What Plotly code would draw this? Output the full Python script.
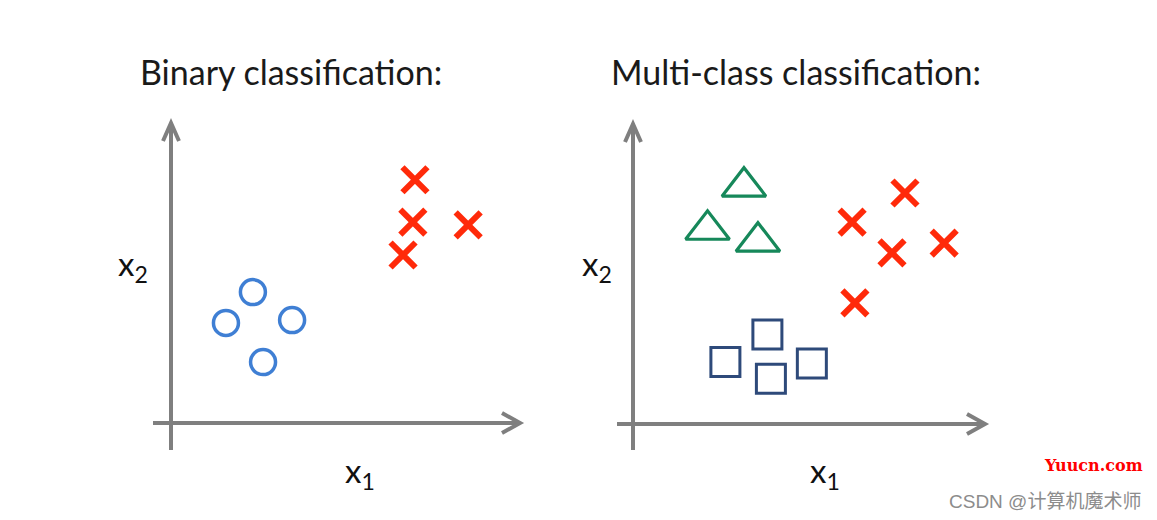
import plotly.graph_objects as go

# ---------------- data (arbitrary feature units) ----------------
# Binary classification panel
bin_circle_x1 = [2.34, 1.57, 3.46, 2.63]
bin_circle_x2 = [3.74, 2.86, 2.94, 1.74]
bin_cross_x1 = [6.97, 6.91, 8.49, 6.63]
bin_cross_x2 = [6.95, 5.74, 5.66, 4.80]

# Multi-class classification panel
mc_tri_x1 = [3.17, 2.13, 3.57]
mc_tri_x2 = [6.78, 5.55, 5.21]
mc_cross_x1 = [7.77, 6.26, 7.40, 8.89, 6.34]
mc_cross_x2 = [6.60, 5.77, 4.89, 5.17, 3.46]
mc_sq_x1 = [3.84, 2.64, 5.11, 3.94]
mc_sq_x2 = [2.56, 1.77, 1.73, 1.29]

titles = ["Binary classification:", "Multi-class classification:"]

# ---------------- layout helpers ----------------
PAGE_W, PAGE_H = 1157, 520
OFF = 8  # default body margin of the html page
W, H = PAGE_W - 2 * OFF, PAGE_H - 2 * OFF
U = 35.0  # pixels per unit


def paper_x(px):
    return (px - OFF) / W


def paper_y(py):
    return 1 - (py - OFF) / H


def panel(origin, xpx, ypx):
    ox, oy = origin
    xdom = [paper_x(xpx[0]), paper_x(xpx[1])]
    ydom = [paper_y(ypx[1]), paper_y(ypx[0])]
    xr = [(xpx[0] - ox) / U, (xpx[1] - ox) / U]
    yr = [(oy - ypx[1]) / U, (oy - ypx[0]) / U]
    return xdom, xr, ydom, yr


L = panel((171, 423), (140, 540), (110, 460))
R = panel((633, 424), (600, 1000), (110, 460))

RED = "#ff2a0a"
BLUE = "#3f7fd4"
GREEN = "#16885a"
NAVY = "#2e4a7a"
GRAY = "#7f7f7f"

fig = go.Figure()

fig.add_trace(go.Scatter(x=bin_circle_x1, y=bin_circle_x2, mode="markers", xaxis="x", yaxis="y",
                         marker=dict(symbol="circle-open", size=25, color=BLUE, line=dict(width=3.5, color=BLUE))))
fig.add_trace(go.Scatter(x=bin_cross_x1, y=bin_cross_x2, mode="markers", xaxis="x", yaxis="y",
                         marker=dict(symbol="x-thin-open", size=25, color=RED, line=dict(width=6, color=RED))))
fig.add_trace(go.Scatter(x=mc_tri_x1, y=mc_tri_x2, mode="markers", xaxis="x2", yaxis="y2",
                         marker=dict(symbol="triangle-up-open", size=38, color=GREEN, line=dict(width=3.2, color=GREEN))))
fig.add_trace(go.Scatter(x=mc_cross_x1, y=mc_cross_x2, mode="markers", xaxis="x2", yaxis="y2",
                         marker=dict(symbol="x-thin-open", size=25, color=RED, line=dict(width=6, color=RED))))
fig.add_trace(go.Scatter(x=mc_sq_x1, y=mc_sq_x2, mode="markers", xaxis="x2", yaxis="y2",
                         marker=dict(symbol="square-open", size=29, color=NAVY, line=dict(width=3, color=NAVY))))

shapes = []
ab, aw = 18 / U, 10 / U  # arrow arm back / spread in units


def axes_shapes(xe, ye, xref, yref):
    out = []
    line = dict(color=GRAY, width=4)
    out.append(dict(type="line", xref=xref, yref=yref, x0=xe[0], x1=xe[1], y0=0, y1=0, line=line))
    out.append(dict(type="line", xref=xref, yref=yref, x0=0, x1=0, y0=ye[0], y1=ye[1], line=line))
    t = xe[1]
    out.append(dict(type="path", xref=xref, yref=yref,
                    path=f"M{t-ab},{aw} L{t},0 L{t-ab},{-aw}", line=line))
    t = ye[1]
    out.append(dict(type="path", xref=xref, yref=yref,
                    path=f"M{-aw*0.8},{t-ab} L0,{t} L{aw*0.8},{t-ab}", line=line))
    return out


shapes += axes_shapes([(153 - 171) / U, (520 - 171) / U], [(423 - 450) / U, (423 - 123) / U], "x", "y")
shapes += axes_shapes([(617 - 633) / U, (985 - 633) / U], [(424 - 450) / U, (424 - 124) / U], "x2", "y2")

FONT = "Lato, 'Open Sans', sans-serif"
ann = []
ann.append(dict(text=titles[0], x=paper_x(138), y=paper_y(71), xref="paper", yref="paper",
                xanchor="left", yanchor="middle", showarrow=False, font=dict(family=FONT, size=34, color="#1a1a1a")))
ann.append(dict(text=titles[1], x=paper_x(609), y=paper_y(71), xref="paper", yref="paper",
                xanchor="left", yanchor="middle", showarrow=False, font=dict(family=FONT, size=34, color="#1a1a1a")))
for (xp, yp) in [(116, 265), (580, 265)]:
    ann.append(dict(text="x<sub>2</sub>", x=paper_x(xp), y=paper_y(yp), xref="paper", yref="paper",
                    xanchor="left", yanchor="middle", showarrow=False, font=dict(family=FONT, size=33, color="#111")))
for (xp, yp) in [(343, 472), (808, 472)]:
    ann.append(dict(text="x<sub>1</sub>", x=paper_x(xp), y=paper_y(yp), xref="paper", yref="paper",
                    xanchor="left", yanchor="middle", showarrow=False, font=dict(family=FONT, size=33, color="#111")))
ann.append(dict(text="<b>Yuucn.com</b>", x=paper_x(1145), y=paper_y(465), xref="paper", yref="paper",
                xanchor="right", yanchor="middle", showarrow=False,
                font=dict(family="'DejaVu Serif', serif", size=16, color="#ff0000")))
ann.append(dict(text="CSDN @计算机魔术师", x=paper_x(1143), y=paper_y(501), xref="paper", yref="paper",
                xanchor="right", yanchor="middle", showarrow=False,
                font=dict(family="'Liberation Sans', 'Noto Sans CJK SC', sans-serif", size=19, color="#8c8c8c")))

ax_common = dict(visible=False, showgrid=False, zeroline=False, fixedrange=True)
fig.update_layout(
    width=W, height=H,
    margin=dict(l=0, r=0, t=0, b=0),
    paper_bgcolor="white", plot_bgcolor="rgba(0,0,0,0)",
    showlegend=False,
    xaxis=dict(domain=L[0], range=L[1], anchor="y", **ax_common),
    yaxis=dict(domain=L[2], range=L[3], anchor="x", **ax_common),
    xaxis2=dict(domain=R[0], range=R[1], anchor="y2", **ax_common),
    yaxis2=dict(domain=R[2], range=R[3], anchor="x2", **ax_common),
    shapes=shapes,
    annotations=ann,
)

fig.write_html("out.html")
